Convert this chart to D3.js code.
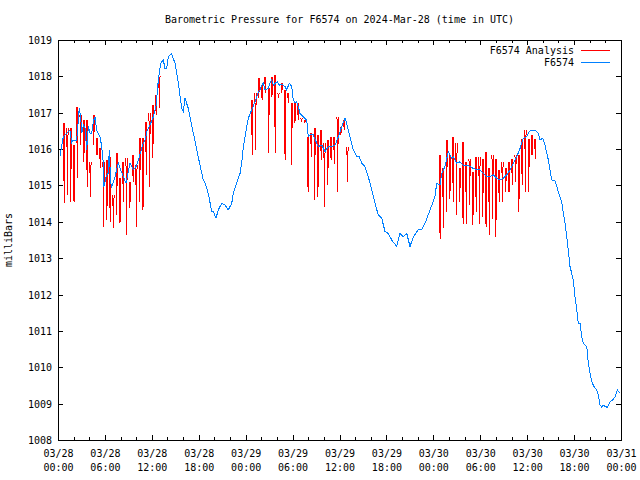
<!DOCTYPE html>
<html><head><meta charset="utf-8">
<script src="https://cdn.jsdelivr.net/npm/d3@7"></script>
<style>
body{margin:0;background:#fff;}
svg text{font-family:"DejaVu Sans Mono","Liberation Mono",monospace;font-size:10px;fill:#000;}
</style></head><body>
<svg id="chart" width="640" height="480"></svg>
<script>
// ---- data (hours since 2024-03-28 00:00 UTC, milliBars) ----
const chartTitle = "Barometric Pressure for F6574 on 2024-Mar-28 (time in UTC)";
const yAxisTitle = "milliBars";
const seriesNames = ["F6574 Analysis", "F6574"];
const seriesColors = ["#ff0000", "#0080ff"];

const xMajorHours = [0,6,12,18,24,30,36,42,48,54,60,66,72];
const xTickDates  = ["03/28","03/28","03/28","03/28","03/29","03/29","03/29","03/29","03/30","03/30","03/30","03/30","03/31"];
const xTickTimes  = ["00:00","06:00","12:00","18:00","00:00","06:00","12:00","18:00","00:00","06:00","12:00","18:00","00:00"];
const xMinorHours = [2,4,8,10,14,16,20,22,26,28,32,34,38,40,44,46,50,52,56,58,62,64,68,70];
const yTicks = [1008,1009,1010,1011,1012,1013,1014,1015,1016,1017,1018,1019];

const blueHours = [0.26,0.68,0.90,1.53,1.75,1.96,2.39,2.72,2.90,3.03,3.24,3.45,3.67,3.88,4.09,4.31,4.51,4.73,4.95,5.37,5.59,5.79,5.88,6.14,6.43,6.56,6.74,6.87,7.29,7.71,8.02,8.35,8.70,9.21,9.63,9.98,10.40,10.83,11.13,11.42,11.77,12.19,12.53,12.83,13.13,13.47,13.68,13.90,14.11,14.54,14.96,15.39,15.82,16.03,16.24,16.66,17.10,17.74,18.16,18.58,18.80,19.22,19.66,19.86,20.21,20.50,20.94,21.36,21.78,22.22,22.42,22.85,23.28,23.49,23.70,23.92,24.13,24.34,24.77,25.19,25.62,25.83,26.05,26.26,26.47,26.90,27.11,27.33,27.54,27.75,28.05,28.30,28.61,29.03,29.25,29.58,29.89,30.09,30.31,30.53,30.73,30.95,31.37,31.81,32.01,32.23,32.65,33.09,33.29,33.73,34.15,34.57,35.00,35.43,35.85,36.28,36.70,36.92,37.34,37.77,38.20,38.53,38.84,39.26,39.68,40.12,40.54,40.96,41.40,41.82,42.24,42.68,43.32,43.74,44.16,44.60,45.02,45.44,46.08,46.51,46.94,47.58,48.21,48.43,48.86,49.07,49.49,49.92,50.35,50.56,50.99,51.41,51.84,52.27,52.69,53.11,53.55,53.97,54.39,54.83,55.25,55.67,56.11,56.53,56.95,57.39,57.81,58.23,58.66,59.09,59.51,59.94,60.28,60.58,61.00,61.43,61.64,61.99,62.28,62.71,63.14,63.56,63.98,64.42,64.63,64.84,65.06,65.26,65.48,65.70,65.90,66.12,66.34,66.54,66.76,66.98,67.18,67.62,67.82,68.04,68.26,68.55,68.90,69.10,69.32,69.54,69.74,69.96,70.25,70.60,70.94,71.24,71.53,71.79];
const blueValues = [1015.81,1016.34,1016.39,1016.52,1016.17,1016.25,1016.25,1017.13,1016.89,1016.44,1016.66,1016.58,1015.98,1016.62,1016.44,1016.44,1016.75,1016.89,1016.52,1016.34,1016.07,1015.62,1014.97,1015.24,1015.34,1015.98,1015.07,1014.97,1015.24,1015.62,1015.43,1015.24,1015.07,1015.62,1015.43,1015.52,1015.79,1016.11,1016.25,1016.52,1016.66,1016.89,1017.17,1017.90,1018.36,1018.45,1018.22,1018.22,1018.54,1018.62,1018.36,1017.81,1017.12,1017.03,1017.40,1017.12,1016.66,1015.98,1015.56,1015.15,1015.07,1014.78,1014.28,1014.28,1014.10,1014.33,1014.51,1014.46,1014.33,1014.51,1014.79,1015.07,1015.33,1015.61,1016.07,1016.34,1016.62,1016.85,1017.08,1017.30,1017.58,1017.63,1017.76,1017.81,1017.63,1017.67,1017.81,1017.90,1017.76,1017.81,1017.85,1017.76,1017.79,1017.72,1017.63,1017.81,1017.72,1017.35,1017.26,1017.30,1017.17,1016.98,1016.89,1016.80,1016.34,1016.39,1016.39,1016.16,1016.07,1016.11,1015.93,1016.07,1016.07,1016.11,1016.34,1016.62,1016.85,1016.71,1016.34,1015.98,1015.79,1015.79,1015.61,1015.52,1015.24,1014.88,1014.51,1014.19,1014.10,1013.73,1013.68,1013.50,1013.32,1013.68,1013.59,1013.68,1013.32,1013.59,1013.78,1013.78,1013.96,1014.33,1014.69,1015.06,1015.01,1015.33,1015.52,1015.93,1015.75,1015.79,1015.61,1015.65,1015.56,1015.56,1015.52,1015.47,1015.43,1015.43,1015.33,1015.24,1015.24,1015.29,1015.20,1015.15,1015.20,1015.29,1015.43,1015.61,1015.79,1016.02,1016.30,1016.34,1016.48,1016.52,1016.52,1016.43,1016.25,1016.30,1016.11,1015.70,1015.15,1015.13,1014.83,1014.55,1014.23,1013.96,1013.59,1013.22,1012.77,1012.58,1012.40,1011.94,1011.58,1011.21,1011.21,1010.84,1010.66,1010.57,1010.11,1009.83,1009.60,1009.47,1009.38,1009.24,1008.96,1008.90,1008.96,1008.92,1008.90,1009.05,1009.10,1009.19,1009.38,1009.30];

// analysis series: three runs of short swings; each swing has an upper and a lower reading
const redStartHours = [0.79, 24.84, 48.86];
const redStepHours  = [0.42, 0.42, 0.42];
const redTop1 = [1016.71,1016.57,1016.57,1016.11,1017.17,1016.94,1016.80,1016.80,1015.65,1016.94,1016.30,1016.02,1015.65,1015.70,1015.79,1014.74,1015.88,1015.20,1015.65,1015.75,1015.10,1015.84,1015.56,1016.30,1016.30,1016.75,1016.98,1017.21,1017.49,1018.00];
const redLow1 = [1014.51,1014.74,1014.55,1014.55,1015.20,1016.11,1015.65,1014.97,1014.69,1016.11,1015.84,1015.47,1013.87,1014.05,1014.00,1013.82,1014.19,1013.96,1014.55,1013.64,1014.37,1015.10,1013.87,1014.55,1014.32,1015.29,1014.97,1015.75,1016.94,1017.13];
const redTop2 = [1017.35,1017.53,1017.95,1017.76,1017.99,1017.67,1017.99,1018.04,1017.53,1017.81,1017.63,1017.53,1017.26,1017.26,1017.26,1016.85,1016.80,1016.34,1016.43,1016.57,1016.39,1016.52,1016.16,1016.25,1016.34,1016.34,1016.89,1016.62,1016.80,1016.07];
const redLow2 = [1015.84,1015.97,1017.40,1017.35,1017.53,1015.88,1017.44,1015.88,1017.40,1017.53,1015.70,1017.26,1015.56,1016.71,1016.80,1016.75,1016.71,1014.83,1015.79,1014.60,1014.69,1015.70,1014.42,1015.01,1015.70,1015.60,1014.83,1016.39,1016.52,1015.10];
const redTop3 = [1015.85,1015.47,1016.25,1015.83,1016.34,1016.16,1015.47,1016.20,1015.65,1015.74,1015.38,1015.79,1015.79,1015.74,1015.93,1015.47,1015.83,1015.74,1015.42,1015.65,1015.47,1015.65,1015.74,1015.83,1015.83,1016.29,1016.52,1016.29,1016.39,1016.29];
const redLow3 = [1013.54,1013.82,1014.28,1014.64,1014.55,1014.18,1014.55,1013.95,1013.95,1014.46,1013.91,1014.28,1013.95,1014.14,1013.86,1013.63,1014.09,1013.59,1014.55,1014.55,1014.83,1014.83,1015.01,1015.10,1014.28,1015.01,1014.83,1014.83,1015.83,1015.74];
const redTops = [redTop1, redTop2, redTop3];
const redLows = [redLow1, redLow2, redLow3];

// ---- drawing ----
const W = 640, H = 480;
const m = {left:58, right:621, top:40, bottom:440};
const svg = d3.select("#chart");
const x = d3.scaleLinear().domain([0,72]).range([m.left, m.right]);
const y = d3.scaleLinear().domain([1008,1019]).range([m.bottom, m.top]);

svg.append("rect").attr("width",W).attr("height",H).attr("fill","#fff");

svg.append("text").attr("x",(m.left+m.right)/2).attr("y",23).attr("text-anchor","middle").text(chartTitle);
svg.append("text").attr("transform",`translate(12,${(m.top+m.bottom)/2}) rotate(-90)`).attr("text-anchor","middle").text(yAxisTitle);

function styleAxis(g){
  g.select(".domain").remove();
  g.selectAll(".tick line").attr("stroke","#000").attr("shape-rendering","crispEdges");
  g.selectAll("text").attr("font-family",null).attr("font-size",null);
}

const gxb = svg.append("g").attr("transform",`translate(0,${m.bottom})`)
  .call(d3.axisBottom(x).tickValues(xMajorHours).tickSize(-5).tickFormat(""))
  .call(styleAxis);
gxb.selectAll(".tick").each(function(d,i){
  const t = d3.select(this).append("text").attr("text-anchor","middle").attr("fill","#000");
  t.append("tspan").attr("x",0).attr("y",17).text(xTickDates[i]);
  t.append("tspan").attr("x",0).attr("y",30.5).text(xTickTimes[i]);
});
svg.append("g").attr("transform",`translate(0,${m.bottom})`)
  .call(d3.axisBottom(x).tickValues(xMinorHours).tickSize(-3).tickFormat("")).call(styleAxis);
svg.append("g").attr("transform",`translate(0,${m.top})`)
  .call(d3.axisTop(x).tickValues(xMajorHours).tickSize(-5).tickFormat("")).call(styleAxis);
svg.append("g").attr("transform",`translate(0,${m.top})`)
  .call(d3.axisTop(x).tickValues(xMinorHours).tickSize(-3).tickFormat("")).call(styleAxis);
svg.append("g").attr("transform",`translate(${m.left},0)`)
  .call(d3.axisLeft(y).tickValues(yTicks).tickSize(-5).tickPadding(6).tickFormat(d3.format("d")))
  .call(styleAxis)
  .selectAll("text").attr("fill","#000").attr("dy","0.35em");
svg.append("g").attr("transform",`translate(${m.right},0)`)
  .call(d3.axisRight(y).tickValues(yTicks).tickSize(-5).tickFormat("")).call(styleAxis);

// data
const line = d3.line().x(d=>x(d[0])).y(d=>y(d[1]));
const plot = svg.append("g");
const half = 0.08; // half-width of a swing, hours
redTops.forEach((tops,k)=>{
  tops.forEach((top,i)=>{
    const t = redStartHours[k] + i*redStepHours[k];
    plot.append("path").datum([[t-half, top],[t, redLows[k][i]],[t+half, top]])
      .attr("d",line).attr("fill","none")
      .attr("stroke",seriesColors[0]).attr("stroke-width",1).attr("shape-rendering","crispEdges");
  });
});
const bluePts = blueHours.map((h,i)=>[h, blueValues[i]]);
plot.append("path").datum(bluePts).attr("d",line).attr("fill","none")
  .attr("stroke",seriesColors[1]).attr("stroke-width",1).attr("shape-rendering","crispEdges");

svg.append("rect").attr("x",m.left).attr("y",m.top).attr("width",m.right-m.left).attr("height",m.bottom-m.top)
  .attr("fill","none").attr("stroke","#000").attr("shape-rendering","crispEdges");

seriesNames.forEach((name,i)=>{
  const ly = 50 + i*12;
  svg.append("text").attr("x",574).attr("y",ly+3.5).attr("text-anchor","end").text(name);
  svg.append("line").attr("x1",581).attr("x2",610).attr("y1",ly).attr("y2",ly)
    .attr("stroke",seriesColors[i]).attr("shape-rendering","crispEdges");
});
</script>
</body></html>
